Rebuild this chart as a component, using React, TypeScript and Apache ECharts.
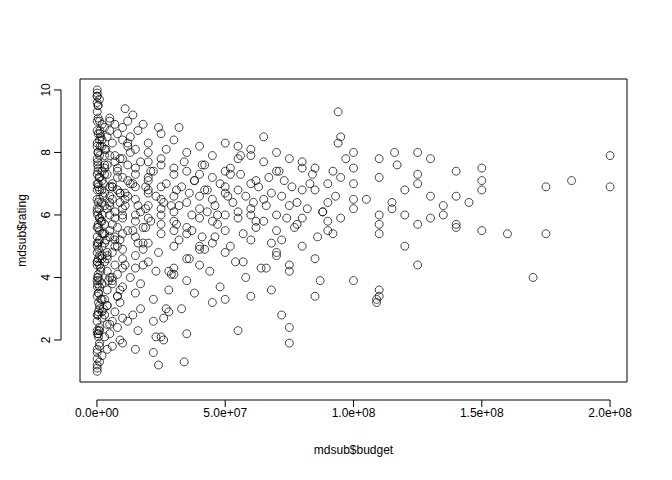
import * as echarts from "echarts";
import { useEffect, useRef } from "react";

// budget in millions of dollars, rating
const budgetM: number[] = [
  200, 200, 185, 175, 175, 170, 160, 150, 150, 150, 150, 145, 140, 140, 140, 140, 135, 135, 130, 130, 130,
  125, 125, 125, 125, 125, 120, 120, 120, 117, 116, 115, 115, 110, 110, 110, 110, 110, 110, 110, 109, 109,
  105, 100, 100, 100, 100, 100, 100, 97, 95, 94, 94, 92, 90, 90, 90, 87, 85, 85, 80, 80, 80, 75, 75, 75,
  72, 70, 70, 68, 65, 60, 60, 55, 55, 50, 45, 35, 25, 23, 15,
  95, 95, 93, 92, 90, 88, 86, 85, 85, 84, 82, 80, 80, 78, 78, 76, 75, 75, 75, 74, 73, 72, 72, 70, 70, 70,
  70, 68, 68, 67, 66, 65, 65, 65, 64, 63, 62, 62, 60, 60, 60, 60, 60, 58, 58, 57, 56, 55, 55, 55, 55, 54,
  53, 52, 52, 50, 50, 50, 50, 50, 50, 50, 48, 48, 47, 46, 45, 45, 45, 45, 45, 44, 43, 42, 42, 41, 40, 40,
  40, 40, 40, 40, 40, 40, 38, 38, 37, 36, 35, 35, 35, 35, 35, 35, 35, 34, 33, 32, 32, 31, 30, 30, 30, 30,
  30, 30, 30, 30, 30, 30, 28, 28, 27, 27, 26, 25, 25, 25, 25, 25, 25, 25, 25, 25, 24, 23, 22, 22, 21, 20,
  20, 20, 20, 20, 20, 20, 20, 20, 20, 20, 19, 18, 18, 18, 17, 17, 16, 16, 15, 15, 15, 15, 15, 15, 15, 15,
  15, 15, 14, 14, 13, 13, 12, 12, 12, 12, 12, 12, 11, 11, 10, 10, 10, 10, 10, 10, 10, 10, 10, 10, 10, 10,
  9, 9, 9, 9, 8, 8, 8, 8, 8, 8, 8, 7, 7, 7, 7, 7, 7, 6, 6, 6, 6, 6, 6, 6, 5, 5, 5, 5, 5, 5, 5, 5, 5,
  4, 4, 4, 4, 4, 4, 4, 4, 3, 3, 3, 3, 3, 3, 3, 3, 3, 3, 2, 2, 2, 2, 2, 2, 2, 2, 2, 2, 2, 2,
  1, 1, 1, 1, 1, 1, 1, 1, 1, 1, 1, 1, 1, 1, 1, 1, 1, 1,
  0.5, 0.5, 0.5, 0.5, 0.5, 0.5, 0.5, 0.5, 0.5, 0.5, 0.5, 0.5, 0.5, 0.5, 0.5, 0.5, 0.5, 0.5,
  0.1, 0.1, 0.1, 0.1, 0.1, 0.1, 0.1, 0.1, 0.1, 0.1, 0.1, 0.1, 0.1, 0.1, 0.1, 0.1, 0.1, 0.1, 0.1, 0.1,
  0.1, 0.1, 0.1, 0.1, 0.1, 0.1, 0.1, 0.1, 0.1,
  // extra density in the low-budget band
  28, 27, 26, 24, 23, 22, 21, 19, 18, 17, 16, 14, 13, 11, 9, 8, 7, 6, 5, 4, 3, 2, 1.5, 1.2,
  29, 26, 24, 22, 19, 17, 15, 13, 11, 9, 8, 7, 6, 5, 4, 3, 2.5, 2, 1.5, 1, 0.8, 0.6, 0.3, 0.2,
  18, 16, 14, 12, 10, 9, 8, 7, 6, 5, 4, 3.5, 3, 2.5, 2, 1.8, 1.5, 1.2, 1, 0.7, 0.4, 0.3, 0.2, 0.1,
  12, 11, 10, 9, 8, 7, 6, 5, 4.5, 4, 3.5, 3, 2.5, 2, 1.5, 1, 0.8, 0.6, 0.4, 0.2,
  6, 5, 4, 3, 2.5, 2, 1.5, 1.2, 1, 0.8, 0.6, 0.4, 0.3, 0.2, 0.1, 0.05, 0.05, 0.05, 0.05, 0.05,
  34, 33, 32, 31, 29, 38, 37, 36, 43, 42, 41, 47, 46, 52, 51, 57, 56, 62, 61, 66, 71, 77, 83, 88,
];
const rating: number[] = [
  7.9, 6.9, 7.1, 6.9, 5.4, 4.0, 5.4, 7.5, 7.1, 6.8, 5.5, 6.4, 7.4, 6.6, 5.7, 5.6, 6.3, 6.0, 7.8, 6.6, 5.9,
  8.0, 7.3, 7.0, 5.7, 4.4, 6.8, 6.0, 5.0, 7.6, 8.0, 6.4, 6.2, 7.8, 7.2, 6.0, 5.7, 5.4, 3.6, 3.4, 3.2, 3.3,
  6.5, 8.0, 7.5, 7.0, 6.5, 6.2, 3.9, 7.8, 8.5, 9.3, 8.3, 7.4, 6.4, 5.8, 5.5, 3.9, 7.5, 3.4, 7.7, 6.8, 5.9,
  1.9, 2.4, 4.2, 2.8, 8.0, 4.8, 3.6, 8.5, 7.9, 3.4, 2.3, 8.2, 3.3, 3.2, 2.2, 2.1, 2.1, 1.7,
  7.2, 5.9, 6.6, 5.4, 7.0, 6.1, 5.3, 6.8, 4.6, 7.3, 6.2, 7.5, 5.0, 6.4, 5.7, 6.9, 7.8, 6.3, 4.4, 5.9, 7.1,
  6.6, 5.2, 7.4, 6.0, 5.5, 4.7, 6.7, 5.1, 7.2, 6.3, 7.7, 6.5, 5.8, 4.3, 6.9, 5.6, 7.1, 6.2, 8.1, 7.0, 6.0,
  5.2, 4.0, 6.6, 5.4, 7.3, 6.1, 7.8, 6.8, 5.9, 4.5, 6.4, 7.5, 5.0, 6.9, 8.3, 7.4, 6.7, 6.0, 5.5, 4.8, 3.7,
  7.0, 5.7, 6.3, 5.1, 7.9, 7.2, 6.5, 5.8, 4.2, 6.1, 7.6, 6.8, 5.3, 4.9, 6.2, 7.3, 8.2, 6.6, 5.9, 5.0,
  4.4, 3.5, 7.1, 6.0, 6.7, 5.4, 8.0, 7.4, 6.4, 5.6, 4.6, 3.9, 7.7, 6.9, 6.3, 5.2, 6.8, 7.5, 5.8, 4.1,
  8.4, 7.3, 6.6, 6.1, 5.5, 5.0, 4.3, 3.6, 2.9, 8.1, 7.0, 6.4, 5.7, 7.8, 6.2, 8.6, 7.6, 6.9, 6.5, 6.0,
  5.4, 4.8, 4.2, 3.3, 2.6, 7.4, 5.9, 8.0, 6.8, 5.1, 7.2, 4.5, 6.3, 8.3, 7.7, 7.1, 6.7, 6.2, 5.6, 5.1, 4.4,
  3.8, 3.0, 2.3, 8.7, 6.0, 7.5, 5.3, 6.9, 4.7, 8.1, 7.3, 6.5, 5.8, 3.5, 2.8, 7.0, 4.0, 8.5, 6.6, 5.5,
  9.0, 8.2, 7.6, 7.1, 6.7, 6.3, 5.9, 5.4, 4.9, 4.3, 3.7, 2.7, 8.8, 7.2, 6.0, 4.6, 8.4, 7.8, 6.4, 5.2, 3.2,
  2.0, 8.6, 7.4, 6.8, 5.6, 4.1, 3.4, 2.4, 8.9, 7.7, 6.1, 5.0, 4.4, 2.9, 1.8, 8.3, 7.0, 6.5, 5.7, 3.9, 2.6,
  8.7, 6.9, 5.3, 4.0, 2.2, 9.1, 7.9, 6.6, 5.5, 4.2, 3.1, 8.5, 7.3, 6.2, 4.8, 3.6, 2.5, 8.1, 7.5, 6.3, 5.1,
  4.5, 3.3, 2.1, 8.8, 7.6, 6.7, 5.8, 4.7, 3.8, 2.7, 1.5, 8.9, 8.2, 7.4, 6.8, 6.0, 5.4, 4.6, 3.9, 3.0, 2.3, 1.9,
  9.7, 9.0, 8.4, 7.9, 7.2, 6.5, 5.9, 5.2, 4.4, 3.7, 3.1, 2.4, 1.8, 1.3, 6.9, 5.6, 4.1, 2.8,
  9.5, 9.1, 8.6, 8.0, 7.5, 7.0, 6.4, 5.7, 5.1, 4.6, 4.0, 3.5, 2.9, 2.2, 1.6, 1.2, 6.1, 4.8,
  10.0, 9.8, 9.6, 9.3, 9.0, 8.7, 8.3, 7.8, 7.3, 6.8, 6.2, 5.6, 5.0, 4.5, 3.9, 3.4, 2.8, 2.3, 1.7, 1.4,
  1.0, 1.1, 9.9, 7.0, 5.3, 4.2, 3.0, 2.0, 1.2,
  6.6, 7.4, 5.8, 6.9, 4.9, 7.7, 6.3, 5.5, 8.0, 4.4, 6.7, 7.2, 5.2, 3.8, 6.0, 4.7, 7.9, 5.0, 3.3, 8.2, 4.1, 2.7, 8.8, 1.6,
  5.6, 6.1, 4.3, 7.0, 6.5, 3.6, 7.5, 5.9, 4.0, 6.4, 3.1, 7.3, 5.4, 2.9, 8.5, 6.8, 2.3, 4.9, 7.6, 3.7, 8.9, 5.1, 9.2, 2.6,
  6.2, 7.8, 3.4, 5.3, 6.9, 2.5, 4.6, 8.1, 5.7, 3.0, 7.1, 6.4, 4.2, 8.6, 5.5, 3.5, 7.4, 6.0, 2.2, 4.5, 8.3, 9.4, 1.9, 6.7,
  5.0, 7.9, 4.8, 6.3, 3.9, 7.6, 5.2, 2.8, 6.6, 8.4, 4.3, 5.9, 7.2, 3.2, 8.0, 4.0, 6.9, 9.0, 1.7, 5.4,
  7.0, 3.3, 5.8, 8.7, 4.7, 6.2, 2.1, 9.5, 7.7, 3.8, 5.1, 8.2, 4.4, 6.5, 2.6, 9.8, 1.3, 3.0, 8.8, 5.7,
  6.3, 7.1, 5.5, 4.6, 6.8, 4.9, 7.6, 6.0, 5.3, 7.3, 6.6, 4.5, 7.9, 5.8, 6.4, 4.3, 7.4, 5.6, 7.0, 6.1, 6.9, 5.0, 5.9, 6.5,
];

export default function App() {
  const chartRef = useRef<HTMLDivElement>(null);
  useEffect(() => {
    const chart = echarts.init(chartRef.current!, null, { renderer: "svg" });
    const font = "Liberation Sans";
    chart.setOption({
      animation: false,
      textStyle: { fontFamily: font },
      grid: { left: 71, right: 37, top: 71, bottom: 90, show: true, borderColor: "#000", borderWidth: 1 },
      xAxis: {
        type: "value",
        min: -6.6e6,
        max: 2.066e8,
        name: "mdsub$budget",
        nameLocation: "middle",
        nameGap: 62,
        nameTextStyle: { color: "#000", fontSize: 12, fontFamily: font },
        splitLine: { show: false },
        axisLine: { show: false },
        axisTick: { show: false },
        axisLabel: {
          color: "#000",
          fontSize: 12,
          margin: 25,
          customValues: [0, 5e7, 1e8, 1.5e8, 2e8],
          formatter: (v: number) => v.toExponential(1).replace("e+", "e+0").replace("e+00", "e+00"),
        },
      },
      yAxis: {
        type: "value",
        min: 0.656,
        max: 10.35,
        name: "mdsub$rating",
        nameLocation: "middle",
        nameGap: 52,
        nameTextStyle: { color: "#000", fontSize: 12, fontFamily: font },
        splitLine: { show: false },
        axisLine: { show: false },
        axisTick: { show: false },
        axisLabel: { color: "#000", fontSize: 12, rotate: 90, margin: 28, customValues: [2, 4, 6, 8, 10] },
      },
      series: [
        {
          type: "scatter",
          symbol: "circle",
          symbolSize: 8,
          itemStyle: { color: "rgba(0,0,0,0)", borderColor: "#000", borderWidth: 0.9 },
          data: budgetM.map((b, i) => [b * 1e6, rating[i]]),
        },
      ],
    });
    // R-style axis lines and ticks, placed through the axes' own scales
    const px = (x: number, y: number) => chart.convertToPixel({ gridIndex: 0 }, [x, y]);
    const xTicks = [0, 5e7, 1e8, 1.5e8, 2e8];
    const yTicks = [2, 4, 6, 8, 10];
    const axisY = 374 + 18;
    const axisX = 71 - 18;
    const line = (x1: number, y1: number, x2: number, y2: number) => ({
      type: "line",
      shape: { x1, y1, x2, y2 },
      style: { stroke: "#000", lineWidth: 1 },
    });
    const els: any[] = [];
    els.push(line(px(0, 1)[0], axisY, px(2e8, 1)[0], axisY));
    xTicks.forEach((t) => els.push(line(px(t, 1)[0], axisY, px(t, 1)[0], axisY + 7)));
    els.push(line(axisX, px(0, 2)[1], axisX, px(0, 10)[1]));
    yTicks.forEach((t) => els.push(line(axisX, px(0, t)[1], axisX - 7, px(0, t)[1])));
    chart.setOption({ graphic: els });
    return () => chart.dispose();
  }, []);
  return <div ref={chartRef} style={{ width: 656, height: 464 }} />;
}
